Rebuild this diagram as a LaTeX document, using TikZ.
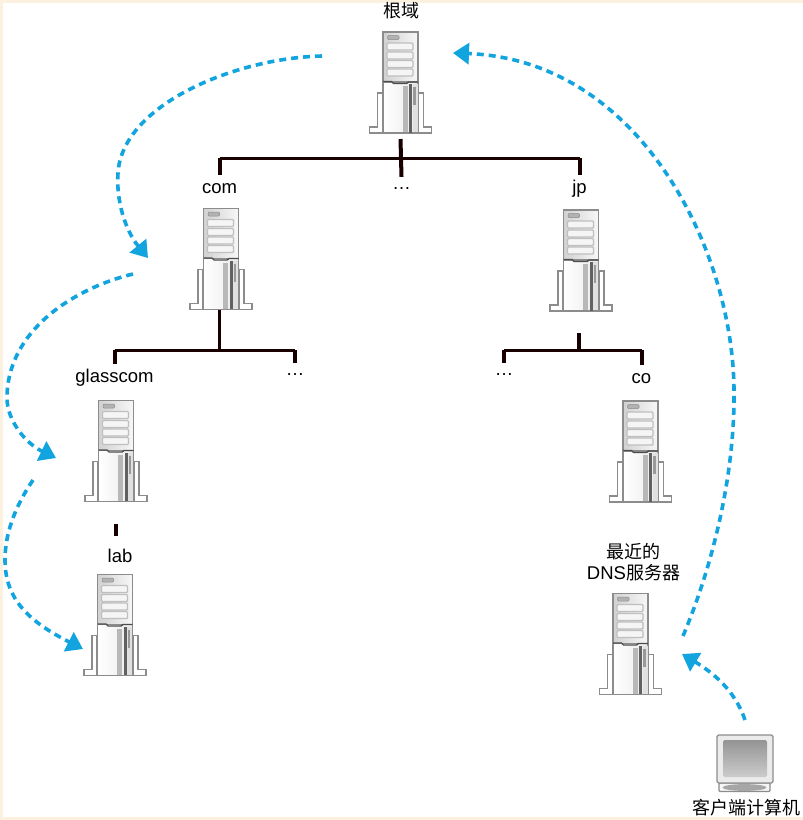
\documentclass[tikz,border=0pt]{standalone}
\usepackage{fontspec}
\setmainfont{Liberation Sans}
\newfontfamily\cjk{Noto Sans CJK SC}
\usetikzlibrary{arrows.meta}
\definecolor{hop}{HTML}{12A4DF}
\definecolor{frameedge}{HTML}{8C8C8C}
\definecolor{paper}{HTML}{FCF1DF}
\tikzset{
  hopline/.style={draw=hop,line width=3.6pt,dash pattern=on 7pt off 5pt,
    -{Triangle[length=16pt,width=21pt]}},
  bus/.style={draw=black!90!red,line width=3pt},
  drop/.style={draw=black!90!red,line width=4pt},
  namelabel/.style={anchor=base,font=\fontsize{18.5}{20}\selectfont,inner xsep=0pt,inner ysep=4pt,text height=14pt,text depth=0pt},
  dotslabel/.style={namelabel,text height=8pt},
  cjklabel/.style={font=\fontsize{18}{21}\selectfont\cjk,inner sep=0pt,align=center},
  frameline/.style={draw=frameedge,line width=1.1pt},
  server/.pic={
    % stand and feet
    \path[frameline,fill=white] (-23,61) -- (-18,61) -- (-18,101) -- (-31,101) -- (-31,95) -- (-23,95) -- cycle;
    \path[frameline,fill=white] (23,61) -- (18,61) -- (18,101) -- (31,101) -- (31,95) -- (23,95) -- cycle;
    % upper cabinet
    \path[frameline,left color=black!18,right color=black!3] (-17.5,0) rectangle (17.5,50);
    \path[draw=black!45,fill=black!30,line width=.5pt,rounded corners=1pt] (-13,3.5) rectangle (-1.5,7.5);
    \foreach \t in {11,20,28.5,37}
      \path[draw=black!25,fill=black!4,line width=1.4pt,rounded corners=1pt] (-13.5,\t) rectangle (12.5,\t+7);
    % lower cabinet
    \path[frameline,left color=white,right color=black!8] (-17.5,50) rectangle (17.5,101);
    \fill[black!28] (2,54) rectangle (7,100);
    \fill[black!12] (12,52) rectangle (17,100);
    \fill[black!62] (8.5,52) rectangle (11.5,100.5);
    \fill[black!40] (12.5,55) rectangle (15,73);
    \draw[black!70,line width=1.4pt] (-17.5,49.5) -- (-9,49.5) -- (-7,51.5) -- (6,51.5) -- (8,50) -- (17.5,50);
    \coordinate (-base) at (0,101);
  },
}
\begin{document}
\begin{tikzpicture}[x=1pt,y=-1pt]
  \useasboundingbox (0,0) rectangle (803,820);
  % paper tint along the edges
  \fill[paper] (0,0) rectangle (803,820);
  \fill[white] (3,3) rectangle (803,816.5);

  % servers
  \pic (root) at (400.5,32) {server};
  \pic (com) at (221,208.5) {server};
  \pic (jp) at (581,210) {server};
  \pic (glass) at (116,400.5) {server};
  \pic (lab) at (115,574.5) {server};
  \pic (co) at (640.5,401) {server};
  \pic (dns) at (630.5,593.5) {server};

  % client computer
  \path[frameline,fill=black!4,rounded corners=1pt] (719,783) rectangle (770,791.5);
  \fill[black!35] (744.5,787.5) ellipse (22 and 3.4);
  \path[frameline,fill=black!8,rounded corners=1.5pt] (717,735) rectangle (773,783);
  \shade[top color=black!42,bottom color=black!20,rounded corners=1.5pt] (723,740) rectangle (767,777);

  % labels
  \node[cjklabel] (rootname) at (401,11) {根域};
  \node[namelabel] (comname) at (219.5,193) {com};
  \node[dotslabel] (rootdots) at (401.5,189) {…};
  \node[namelabel] (jpname) at (579.5,193) {jp};
  \node[namelabel] (glassname) at (114.5,382) {glasscom};
  \node[dotslabel] (comdots) at (295,375) {…};
  \node[dotslabel] (jpdots) at (504,375) {…};
  \node[namelabel] (coname) at (641.5,383) {co};
  \node[namelabel] (labname) at (120,562) {lab};
  \node[cjklabel] (dnsname) at (633.5,562.5) {最近的\\{\fontsize{18.5}{21}\selectfont\rmfamily DNS}服务器};
  \node[cjklabel] (clientname) at (746,808) {客户端计算机};

  % tree connectors
  \coordinate (rootbus) at (401,158);
  \coordinate (combus) at (219,350);
  \coordinate (jpbus) at (579,350);
  \coordinate (jptick) at (579,333);
  \draw[drop] ([yshift=-6pt]root-base) -- (rootdots.north);
  \draw[bus] (comname.north |- rootbus) -- (jpname.north |- rootbus);
  \draw[drop] (comname.north |- rootbus) -- (comname.north);
  \draw[drop] (jpname.north |- rootbus) -- (jpname.north);

  \draw[drop,line width=3pt] (combus |- com-base) -- (combus);
  \draw[bus] (glassname.north |- combus) -- (comdots.north |- combus);
  \draw[drop] (glassname.north |- combus) -- (glassname.north);
  \draw[drop] (comdots.north |- combus) -- (comdots.north);

  \draw[drop] (jptick) -- (jpbus);
  \draw[bus] (jpdots.north |- jpbus) -- (coname.north |- jpbus);
  \draw[drop] (jpdots.north |- jpbus) -- (jpdots.north);
  \draw[drop] (coname.north |- jpbus) -- (coname.north);

  \draw[drop,shorten <=22pt,shorten >=8pt] (glass-base) -- (glass-base |- labname.north);

  % query hops
  \coordinate (hopa) at (322,56);
  \coordinate (hopb) at (133,274);
  \coordinate (hopc) at (33,480);
  \coordinate (hopd) at (745,720);
  \coordinate (hope) at (683,636);
  \coordinate (tipa) at (148,258);
  \coordinate (tipb) at (56,458);
  \coordinate (tipc) at (83,649);
  \coordinate (tipd) at (682,654);
  \coordinate (tipe) at (453,53);
  \draw[hopline] (hopa) .. controls (235,58) and (122,105) .. (118,173) .. controls (116,200) and (125,230) .. (tipa);
  \draw[hopline] (hopb) .. controls (75,288) and (7,330) .. (7,398) .. controls (7,420) and (25,443) .. (tipb);
  \draw[hopline] (hopc) .. controls (14,508) and (5,535) .. (5,560) .. controls (5,600) and (30,622) .. (tipc);
  \draw[hopline] (hopd) .. controls (735,690) and (712,672) .. (tipd);
  \draw[hopline] (hope) .. controls (715,560) and (735,470) .. (734,390) .. controls (733,250) and (640,60) .. (tipe);
\end{tikzpicture}
\end{document}
